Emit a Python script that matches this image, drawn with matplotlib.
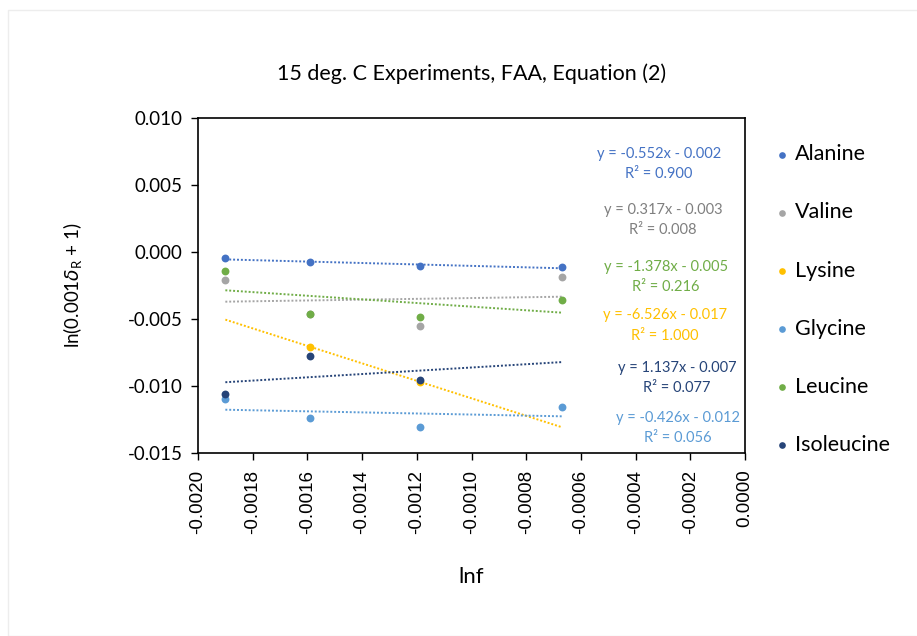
import matplotlib.pyplot as plt
from matplotlib.patches import Rectangle
import numpy as np

plt.rcParams['font.family'] = ['Lato', 'DejaVu Sans']

# x positions (lnf) shared by the series
lnf = [-0.00190, -0.00159, -0.00119, -0.00067]

names = ['Alanine', 'Valine', 'Lysine', 'Glycine', 'Leucine', 'Isoleucine']
colors = ['#4472C4', '#A5A5A5', '#FFC000', '#5B9BD5', '#70AD47', '#264478']
text_colors = ['#4472C4', '#7F7F7F', '#FFC000', '#5B9BD5', '#70AD47', '#264478']

alanine = [-0.00047, -0.00077, -0.00104, -0.00114]
valine = [-0.00207, -0.00464, -0.00555, -0.00189]
lysine = [None, -0.00707, -0.00968, None]
glycine = [-0.01095, -0.01241, -0.01308, -0.01154]
leucine = [-0.00142, -0.00460, -0.00488, -0.00358]
isoleucine = [-0.01062, -0.00774, -0.00955, None]
series = [alanine, valine, lysine, glycine, leucine, isoleucine]

equations = ['y = -0.552x - 0.002', 'y = 0.317x - 0.003', 'y = -6.526x - 0.017',
             'y = -0.426x - 0.012', 'y = -1.378x - 0.005', 'y = 1.137x - 0.007']
r2_labels = ['R² = 0.900', 'R² = 0.008', 'R² = 1.000',
             'R² = 0.056', 'R² = 0.216', 'R² = 0.077']
# label anchor (axes fraction) for each equation
eq_pos = [(0.843, 0.863), (0.850, 0.696), (0.854, 0.381),
          (0.878, 0.075), (0.856, 0.525), (0.876, 0.224)]

fig = plt.figure(figsize=(9.17, 6.36), dpi=100)
fig.patches.append(Rectangle((8 / 917, 0.0), 1.0, 1 - 10 / 636, transform=fig.transFigure,
                             fill=False, edgecolor='#EDEDED', linewidth=1))
ax = fig.add_axes([198 / 917, 1 - 453 / 636, 547 / 917, 335 / 636])

x_all = np.array(lnf)
x_line = np.array([x_all.min(), x_all.max()])
handles = []
for name, col, vals in zip(names, colors, series):
    xs = np.array([x for x, v in zip(lnf, vals) if v is not None])
    ys = np.array([v for v in vals if v is not None])
    h = ax.scatter(xs, ys, s=32, color=col, zorder=3, label=name, linewidths=0)
    handles.append(h)
    k, b = np.polyfit(xs, ys, 1)
    ax.plot(x_line, k * x_line + b, linestyle=(0, (1, 1)), color=col, linewidth=1.4, zorder=2)

for eq, r2, col, (px, py) in zip(equations, r2_labels, text_colors, eq_pos):
    ax.text(px, py, eq + '\n' + r2, transform=ax.transAxes, color=col, fontsize=10.5,
            ha='center', va='center', linespacing=1.6)

ax.set_xlim(-0.0020, 0.0)
ax.set_ylim(-0.015, 0.010)
xt = np.arange(-0.0020, 0.00001, 0.0002)
ax.set_xticks(xt)
ax.set_xticklabels(['%.4f' % v for v in xt], rotation=90, family='Liberation Sans', fontsize=13.5)
ax.set_yticks([-0.015, -0.010, -0.005, 0.0, 0.005, 0.010])
ax.set_yticklabels(['-0.015', '-0.010', '-0.005', '0.000', '0.005', '0.010'], fontsize=13.5)
ax.tick_params(direction='out', length=5, width=1, colors='black')
ax.tick_params(axis='x', pad=7)
ax.tick_params(axis='y', pad=6)
for sp in ax.spines.values():
    sp.set_linewidth(1.2)
    sp.set_color('black')

ax.set_title('15 deg. C Experiments, FAA, Equation (2)', fontsize=15.5, pad=27)
ax.set_xlabel('lnf', fontsize=16, labelpad=24)
ax.set_ylabel(r'ln(0.001$\delta_\mathregular{R}$ + 1)', fontsize=13.5, labelpad=31)

leg = fig.legend(handles=handles, loc='upper left', bbox_to_anchor=(754 / 917, 1 - 125 / 636),
                 frameon=False, fontsize=15.5, labelspacing=1.77, handletextpad=0.2,
                 markerscale=0.85, handlelength=0.8)

fig.savefig('out.png', dpi=100, facecolor='white')
